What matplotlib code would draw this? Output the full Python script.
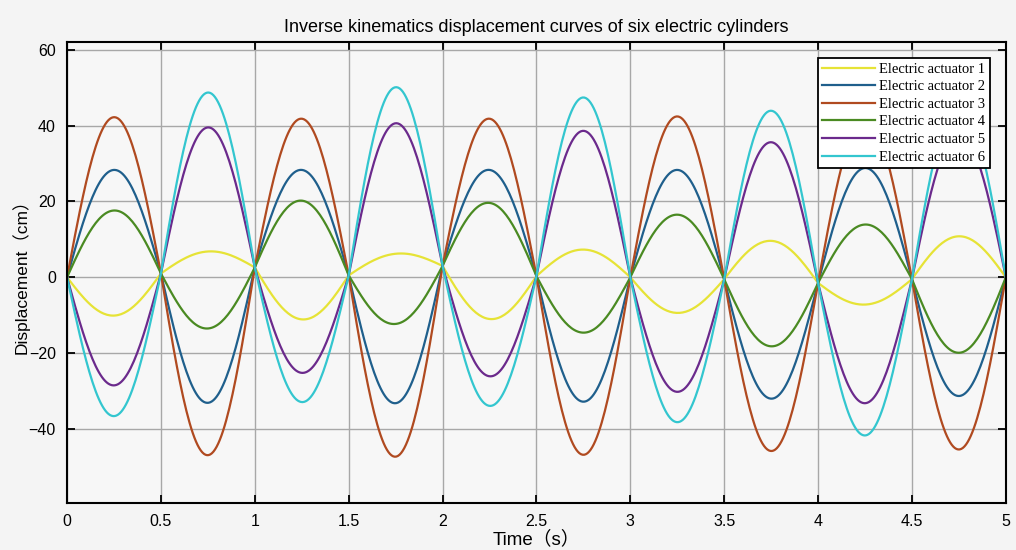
import numpy as np
import matplotlib
matplotlib.use('Agg')
import matplotlib.pyplot as plt

# zero-crossing times and the displacement read at each crossing
t_nodes = [0, 0.5, 1.0, 1.5, 2.0, 2.5, 3.0, 3.5, 4.0, 4.5, 5.0]
cross_vals = [0, 1.0, 2.6, 0.5, 3.0, 0.3, 0.0, -0.5, -1.5, -0.5, 0]

# peak value of each half cycle (t = 0.25, 0.75, ..., 4.75)
act1 = [-10.1, 6.8, -11.1, 6.2, -11.0, 7.3, -9.4, 9.6, -7.2, 10.8]
act2 = [28.3, -33.1, 28.3, -33.2, 28.3, -32.8, 28.3, -32.0, 28.8, -31.3]
act3 = [42.2, -46.9, 41.8, -47.3, 41.8, -46.8, 42.4, -45.8, 42.0, -45.4]
act4 = [17.6, -13.5, 20.2, -12.3, 19.6, -14.6, 16.5, -18.2, 13.9, -19.9]
act5 = [-28.5, 39.5, -25.2, 40.6, -26.1, 38.6, -30.2, 35.6, -33.2, 38.0]
act6 = [-36.6, 48.7, -32.9, 50.1, -33.9, 47.4, -38.2, 43.9, -41.7, 46.0]

labels = ['Electric actuator 1', 'Electric actuator 2', 'Electric actuator 3',
          'Electric actuator 4', 'Electric actuator 5', 'Electric actuator 6']
colors = ['#e6e336', '#1f5f8c', '#b04a20', '#4a8a22', '#6b2a8c', '#33c6cf']


def build_curve(peaks, n=60):
    # half-sine between successive crossings, scaled to hit the read peak
    tt, yy = [], []
    for i, p in enumerate(peaks):
        t0, t1 = t_nodes[i], t_nodes[i + 1]
        c0, c1 = cross_vals[i], cross_vals[i + 1]
        f = np.linspace(0, 1, n)
        base = c0 + (c1 - c0) * f
        amp = p - (c0 + c1) / 2
        tt.append(t0 + (t1 - t0) * f)
        yy.append(base + amp * np.sin(np.pi * f))
    return np.concatenate(tt), np.concatenate(yy)


plt.rcParams['font.family'] = ['Liberation Sans', 'Noto Sans CJK SC']

fig = plt.figure(figsize=(10.16, 5.5), dpi=100, facecolor='#f4f4f4')
ax = fig.add_axes([0.066, 0.0855, 0.924, 0.838])
ax.set_facecolor('#f7f7f7')

for data, lab, col in zip([act1, act2, act3, act4, act5, act6], labels, colors):
    t, y = build_curve(data)
    ax.plot(t, y, color=col, lw=1.6, label=lab)

ax.set_xlim(0, 5)
ax.set_ylim(-59.5, 62)
ax.set_xticks(np.arange(0, 5.01, 0.5))
ax.set_xticklabels(['0', '0.5', '1', '1.5', '2', '2.5', '3', '3.5', '4', '4.5', '5'])
ax.set_yticks([-40, -20, 0, 20, 40, 60])
ax.grid(True, color='#a8a8a8', lw=1.0)
ax.tick_params(direction='in', length=6, width=1.3, top=True, right=True,
               labelsize=11.5, pad=8)
for s in ax.spines.values():
    s.set_linewidth(1.5)
    s.set_color('black')

ax.set_title('Inverse kinematics displacement curves of six electric cylinders',
             fontsize=13, pad=7)
ax.set_xlabel('Time（s）', fontsize=13.5, labelpad=1)
ax.set_ylabel('Displacement（cm）', fontsize=12.5, labelpad=-1)

leg = ax.legend(loc='upper right', prop={'family': 'Liberation Serif', 'size': 10.5},
                frameon=True, fancybox=False, edgecolor='black', framealpha=1,
                facecolor='white', handlelength=3.6, labelspacing=0.3,
                borderaxespad=1.1, handletextpad=0.3, borderpad=0.3)
leg.get_frame().set_linewidth(1.3)

plt.savefig('out.png', dpi=100, facecolor=fig.get_facecolor())
plt.close()
